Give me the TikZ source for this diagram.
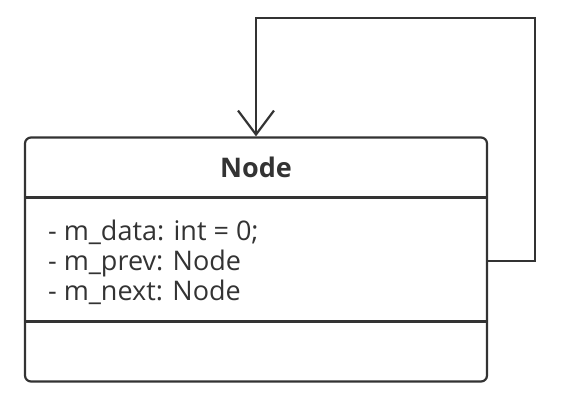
\documentclass[tikz,border=0pt]{standalone}
\usepackage{fontspec}
\setmainfont{Open Sans}
\usetikzlibrary{arrows.meta}
\definecolor{umlgray}{HTML}{333333}

\begin{document}
\begin{tikzpicture}[x=1pt, y=-1pt,
    line width=2.2pt, draw=umlgray, text=umlgray,
    classbox/.style={draw=umlgray, rounded corners=6pt, minimum width=462pt, minimum height=244pt, inner sep=0pt},
    selfref/.style={-{Straight Barb[length=24pt,width=36pt,line width=2.2pt]}, umlgray, line join=miter}]
  \useasboundingbox (0,0) rectangle (564,408);

  %--- Klassenrahmen
  \node[classbox] (cls) at (256,259.5) {};

  % Trennlinien
  \coordinate (div1) at (25,197.5);
  \coordinate (div2) at (25,321.5);
  \draw[umlgray] (div1) -- (div1 -| cls.east);
  \draw[umlgray] (div2) -- (div2 -| cls.east);

  %--- Texte
  \node[font=\fontsize{27}{30}\selectfont\bfseries, anchor=base] (title) at (256,177) {Node};
  \node[font=\fontsize{27}{30}\selectfont, anchor=base west, align=left, inner sep=0pt] (attrs) at (47,300)
    {- m\_data: int = 0;\\- m\_prev: Node\\- m\_next: Node};

  %--- Selbstbezug
  \coordinate (loopR) at (535,18);
  \draw[selfref] ([yshift=-1.5pt]cls.east) -| (loopR) -| (cls.north);
\end{tikzpicture}
\end{document}
